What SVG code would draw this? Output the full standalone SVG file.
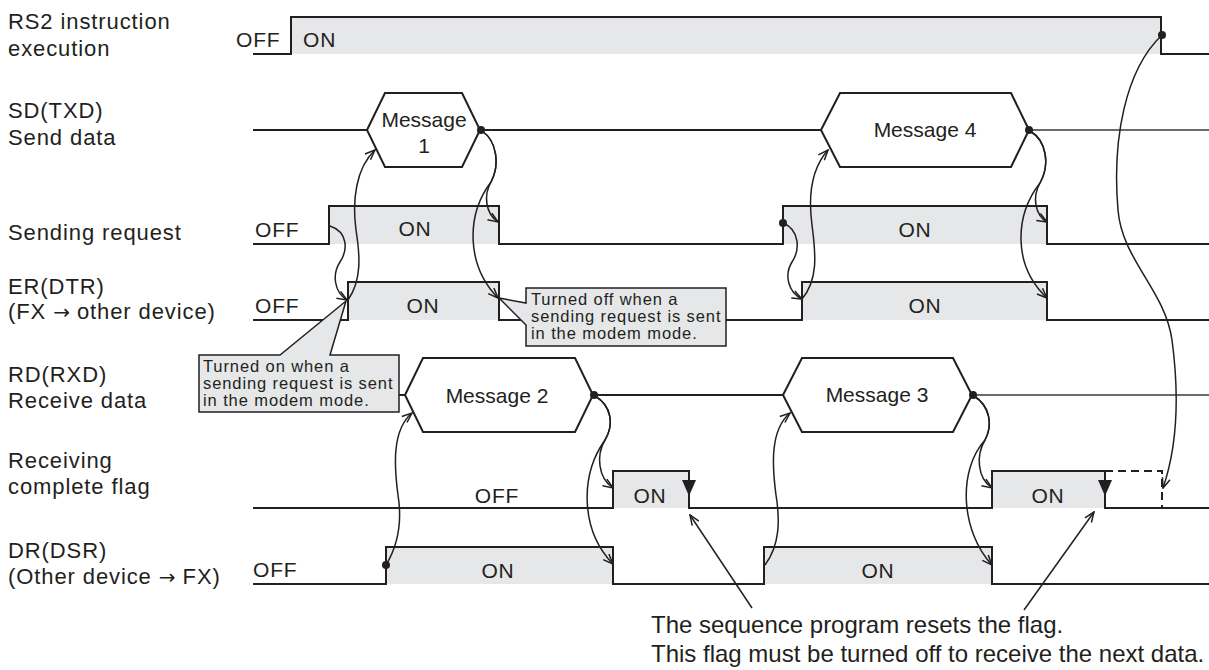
<svg xmlns="http://www.w3.org/2000/svg" width="1209" height="670" viewBox="0 0 1209 670">
<style>
.lbl{font-family:"Liberation Sans",Arial,sans-serif;font-size:22px;letter-spacing:0.9px;fill:#231f20}
.ar{font-family:"DejaVu Sans",sans-serif;font-size:20px;letter-spacing:0}
.st{font-family:"Liberation Sans",Arial,sans-serif;font-size:21px;letter-spacing:0.8px;fill:#231f20}
.mid{text-anchor:middle}
.msg{font-family:"Liberation Sans",Arial,sans-serif;font-size:21px;fill:#231f20;text-anchor:middle}
.co{font-family:"Liberation Sans",Arial,sans-serif;font-size:16.5px;letter-spacing:0.9px;fill:#231f20}
.note{font-family:"Liberation Sans",Arial,sans-serif;font-size:24px;fill:#231f20}
.wave{fill:none;stroke:#231f20;stroke-width:2}
.thin{fill:none;stroke:#3a3a3a;stroke-width:1.5}
.dash{fill:none;stroke:#231f20;stroke-width:2;stroke-dasharray:8 5}
.gf{fill:#e6e7e8;stroke:none}
.hex{fill:#fff;stroke:#231f20;stroke-width:2}
.box{fill:#e6e7e8;stroke:#231f20;stroke-width:1.5}
.arr{fill:none;stroke:#231f20;stroke-width:1.5;marker-end:url(#ah)}
.dot{fill:#231f20}
</style>
<defs>
<marker id="ah" viewBox="0 0 12 10" refX="11" refY="5" markerWidth="12" markerHeight="10" markerUnits="userSpaceOnUse" orient="auto">
<path d="M1,1 L11,5 L1,9" fill="none" stroke="#231f20" stroke-width="1.5"/>
</marker>
</defs>

<g id="labels">
<text class="lbl" x="8" y="29">RS2 instruction</text>
<text class="lbl" x="8" y="56">execution</text>
<text class="lbl" x="8" y="118">SD(TXD)</text>
<text class="lbl" x="8" y="145">Send data</text>
<text class="lbl" x="8" y="240">Sending request</text>
<text class="lbl" x="8" y="294">ER(DTR)</text>
<text class="lbl" x="8" y="319">(FX <tspan class="ar">→</tspan> other device)</text>
<text class="lbl" x="8" y="382">RD(RXD)</text>
<text class="lbl" x="8" y="408">Receive data</text>
<text class="lbl" x="8" y="468">Receiving</text>
<text class="lbl" x="8" y="494">complete flag</text>
<text class="lbl" x="8" y="558">DR(DSR)</text>
<text class="lbl" x="8" y="584">(Other device <tspan class="ar">→</tspan> FX)</text>
</g>

<g id="rs2">
<rect class="gf" x="291" y="17" width="870" height="37"/>
<path class="wave" d="M253,54 H291 V17 H1161 V54 H1209"/>
<text class="st" x="236" y="47">OFF</text>
<text class="st" x="303" y="47">ON</text>
</g>

<g id="sd">
<path class="wave" d="M253,130 H367 M480,130 H821"/>
<path class="thin" d="M1027,130 H1209"/>
</g>
<g id="msg1">
<polygon class="hex" points="367,130 385,93 462,93 480,130 462,167 385,167"/>
<text class="msg" x="424" y="127">Message</text>
<text class="msg" x="424" y="153">1</text>
</g>
<g id="msg4">
<polygon class="hex" points="821,130 840,93 1011,93 1029,130 1011,167 840,167"/>
<text class="msg" x="925" y="137">Message 4</text>
</g>

<g id="sendreq">
<rect class="gf" x="329" y="206" width="170" height="38"/>
<rect class="gf" x="783" y="206" width="264" height="38"/>
<path class="wave" d="M253,244 H329 V206 H499 V244 H783 V206 H1047 V244 H1209"/>
<text class="st" x="255" y="237">OFF</text>
<text class="st mid" x="415" y="236">ON</text>
<text class="st mid" x="915" y="237">ON</text>
</g>

<g id="er">
<rect class="gf" x="348" y="282" width="151" height="38"/>
<rect class="gf" x="802" y="282" width="245" height="38"/>
<path class="wave" d="M253,320 H348 V282 H499 V320 H802 V282 H1047 V320 H1209"/>
<text class="st" x="255" y="313">OFF</text>
<text class="st mid" x="423" y="313">ON</text>
<text class="st mid" x="925" y="313">ON</text>
</g>

<g id="rd">
<path class="wave" d="M253,395 H405 M593,395 H783"/>
<path class="thin" d="M972,395 H1209"/>
</g>
<g id="msg2">
<polygon class="hex" points="405,395 423,358 575,358 593,395 575,432 423,432"/>
<text class="msg" x="497" y="403">Message 2</text>
</g>
<g id="msg3">
<polygon class="hex" points="783,395 802,358 953,358 972,395 953,432 802,432"/>
<text class="msg" x="877" y="402">Message 3</text>
</g>

<g id="flag">
<rect class="gf" x="613" y="471" width="76" height="37"/>
<rect class="gf" x="992" y="471" width="113" height="37"/>
<path class="wave" d="M253,508 H613 V471 H689 V508 H992 V471 H1105 V508 H1209"/>
<path class="dash" d="M1105,471 H1162 V508"/>
<polygon class="dot" points="682,480 696,480 689,496"/>
<polygon class="dot" points="1098,480 1112,480 1105,496"/>
<text class="st mid" x="497" y="503">OFF</text>
<text class="st mid" x="650" y="503">ON</text>
<text class="st mid" x="1048" y="503">ON</text>
</g>

<g id="dr">
<rect class="gf" x="386" y="547" width="227" height="37"/>
<rect class="gf" x="764" y="547" width="228" height="37"/>
<path class="wave" d="M253,584 H386 V547 H613 V584 H764 V547 H992 V584 H1209"/>
<text class="st" x="253" y="577">OFF</text>
<text class="st mid" x="498" y="578">ON</text>
<text class="st mid" x="878" y="578">ON</text>
</g>

<g id="callout-on">
<path class="box" d="M199,355 H280 L346,301 L330,355 H399 V412 H199 Z"/>
<text class="co" x="203" y="372">Turned on when a</text>
<text class="co" x="203" y="389">sending request is sent</text>
<text class="co" x="203" y="406">in the modem mode.</text>
</g>

<g id="callout-off">
<path class="box" d="M526,288 H726 V346 H526 V325 L499,298 L526,303 Z"/>
<text class="co" x="531" y="305">Turned off when a</text>
<text class="co" x="531" y="322">sending request is sent</text>
<text class="co" x="531" y="339">in the modem mode.</text>
</g>

<g id="note">
<text class="note" x="651" y="633">The sequence program resets the flag.</text>
<text class="note" x="651" y="662">This flag must be turned off to receive the next data.</text>
</g>

<g id="connectors">
<path class="arr" d="M330,226 C348,232 348,250 340,262 C332,274 334,292 347,300"/>
<path class="arr" d="M348,300 C362,280 360,255 356,230 C352,200 356,168 375,150"/>
<path class="arr" d="M482,131 C497,141 500,165 491,182 C483,196 486,214 498,222"/>
<path class="arr" d="M482,131 C497,141 500,165 491,182 C466,215 466,265 498,298"/>
<path class="arr" d="M386,565 C398,545 402,520 398,495 C394,465 392,430 412,413"/>
<path class="arr" d="M595,396 C612,406 614,425 605,440 C596,455 598,478 613,488"/>
<path class="arr" d="M595,396 C612,406 614,425 605,440 C580,475 580,530 613,564"/>
<path class="arr" d="M765,565 C780,545 780,520 776,495 C772,465 770,430 790,413"/>
<path class="arr" d="M974,396 C990,406 993,425 985,440 C976,455 977,478 992,488"/>
<path class="arr" d="M974,396 C990,406 993,425 985,440 C958,470 960,530 992,565"/>
<path class="arr" d="M783,223 C800,230 800,250 792,262 C784,275 788,292 802,299"/>
<path class="arr" d="M802,299 C818,280 816,255 812,225 C808,195 812,168 828,150"/>
<path class="arr" d="M1030,131 C1047,141 1050,165 1040,183 C1032,197 1035,215 1047,222"/>
<path class="arr" d="M1030,131 C1047,141 1050,165 1040,183 C1015,215 1012,265 1047,298"/>
<path class="arr" d="M1162,35 C1125,70 1112,140 1118,210 C1122,260 1165,290 1172,340 C1180,400 1176,450 1163,488"/>
<path class="arr" d="M752,608 L690,515"/>
<path class="arr" d="M1024,610 L1094,512"/>
<circle class="dot" cx="481" cy="130" r="4"/>
<circle class="dot" cx="1029" cy="130" r="4"/>
<circle class="dot" cx="594" cy="395" r="4"/>
<circle class="dot" cx="973" cy="395" r="4"/>
<circle class="dot" cx="1162" cy="35" r="4"/>
<circle class="dot" cx="783" cy="223" r="4"/>
<circle class="dot" cx="386" cy="565" r="4"/>
</g>
</svg>
